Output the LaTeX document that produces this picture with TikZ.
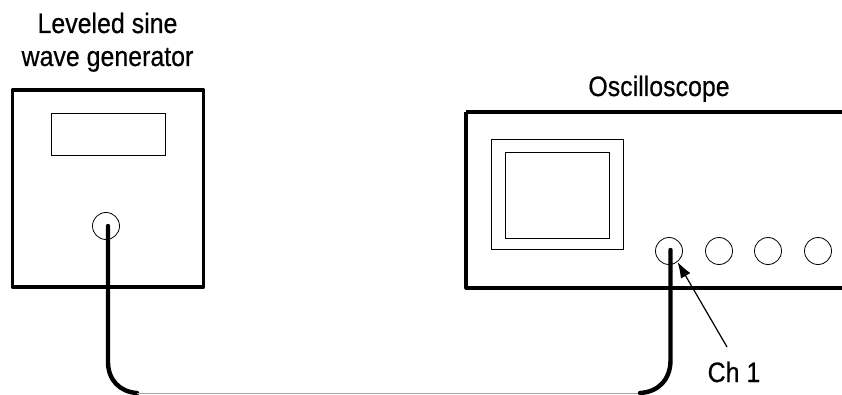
\documentclass[tikz,border=0pt]{standalone}
\usepackage{fontspec}
\setmainfont[FakeStretch=0.89,FakeBold=0.5]{Liberation Sans}
\usetikzlibrary{arrows.meta,calc,positioning}
\tikzset{
  case/.style={draw=black, line width=3.1pt, line join=round},
  panel/.style={draw=black, line width=0.9pt},
  knob/.style={circle, draw=black, line width=0.8pt, minimum size=27pt, inner sep=0pt},
  cable/.style={line width=4.4pt, line cap=round},
  caption/.style={font=\fontsize{28}{33}\selectfont, align=center, inner sep=0pt, anchor=base}
}
\begin{document}
\begin{tikzpicture}[x=1pt,y=-1pt]
        \useasboundingbox (0,0) rectangle (842,395);
        % Draw the generator
        \draw[case] (12.5,90) rectangle (203.5,287);
        \draw[panel] (51.5,113.5) rectangle (165,155);
        \node[knob] (genout) at (106,226) {};
        \node[caption] (genlabel) at (107.5,33) {Leveled sine};
        \node[caption] (genlabeltwo) at (107.5,66) {wave generator};
        % Draw the scope
        \draw[case] (466,112) -- (842,112);
        \draw[case] (842,288) -- (466,288) -- (466,112);
        \draw[panel] (491.5,139.5) rectangle (623,249.5);
        \draw[panel] (505.5,152) rectangle (609,238);
        \node[knob] (chone) at (669,251) {};
        \node[knob] (chtwo) at (719,251) {};
        \node[knob] (chthree) at (768,251) {};
        \node[knob] (chfour) at (818,251) {};
        \node[caption] (scopelabel) at (659,96) {Oscilloscope};
        \node[caption] (chlabel) at (734,382) {Ch 1};
        % cable
        \coordinate (genend) at (108,226);
        \coordinate (scopeend) at (670.5,250);
        \draw[cable] (genend) -- (108,362) .. controls (108,380) and (120,392) .. (137,393);
        \draw[gray!70, line width=0.9pt] (137,393.5) -- (640,393.5);
        \draw[cable] (scopeend) -- (670.5,360) .. controls (670.5,380) and (658,392) .. (640,393);
        % pointer
        \coordinate (chtail) at (727,347);
        \draw[-{Latex[length=16pt,width=11pt]}, line width=1.2pt] (chtail) -- (chone.-52);
\end{tikzpicture}
\end{document}
